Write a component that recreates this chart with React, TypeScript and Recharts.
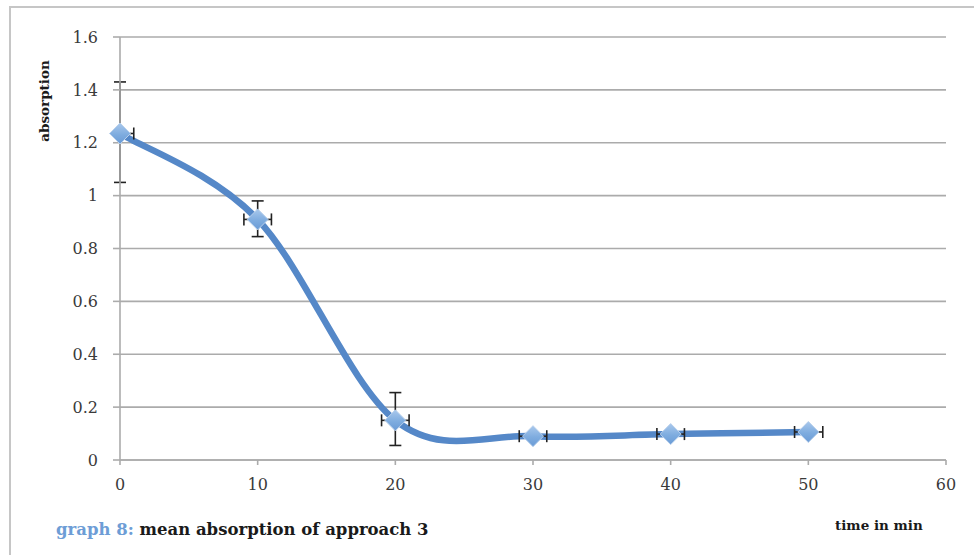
import React from "react"
import { ComposedChart, Line, Scatter, ErrorBar, XAxis, YAxis, CartesianGrid } from "recharts"

const SERIF = "'DejaVu Serif', 'Liberation Serif', serif"

// time in min
const times = [0, 10, 20, 30, 40, 50]
// mean absorption
const absorption = [1.235, 0.91, 0.15, 0.09, 0.098, 0.106]
// y error bars (minus, plus)
const yErrors: [number, number][] = [[0.185, 0.195], [0.065, 0.07], [0.095, 0.105], [0.006, 0.006], [0.006, 0.006], [0.006, 0.006]]
// x error bars (minus, plus)
const xErrors: [number, number][] = [[0, 1], [1, 1], [1, 1], [1, 1], [1, 1], [1, 1.05]]

const xTicks = [0, 10, 20, 30, 40, 50, 60]
const yTicks = [0, 0.2, 0.4, 0.6, 0.8, 1, 1.2, 1.4, 1.6]

const data = times.map((t, i) => ({ t, a: absorption[i], ey: yErrors[i], ex: xErrors[i] }))

const LINE = "#5588c8"
const GRID = "#ababab"

// Excel-style smoothed line (uniform Catmull-Rom as cubic beziers)
function excelSmooth(context: any) {
  let pts: [number, number][] = []
  return {
    areaStart() {},
    areaEnd() {},
    lineStart() { pts = [] },
    point(x: number, y: number) { pts.push([+x, +y]) },
    lineEnd() {
      const n = pts.length
      if (!n) return
      context.moveTo(pts[0][0], pts[0][1])
      for (let i = 0; i < n - 1; i++) {
        const p0 = pts[i - 1] || pts[i]
        const p1 = pts[i]
        const p2 = pts[i + 1]
        const p3 = pts[i + 2] || p2
        context.bezierCurveTo(
          p1[0] + (p2[0] - p0[0]) / 6, p1[1] + (p2[1] - p0[1]) / 6,
          p2[0] - (p3[0] - p1[0]) / 6, p2[1] - (p3[1] - p1[1]) / 6,
          p2[0], p2[1],
        )
      }
    },
  }
}

const Diamond = (props: any) => {
  const { cx, cy } = props
  if (cx == null || cy == null) return null
  const r = 10.5
  return (
    <polygon
      points={`${cx},${cy - r} ${cx + r},${cy} ${cx},${cy + r} ${cx - r},${cy}`}
      fill="url(#diamondFill)"
      stroke="#b8d0ec"
      strokeWidth={1}
    />
  )
}

export default function App() {
  return (
    <div style={{ position: "absolute", left: 0, top: 0, width: 974, height: 555, background: "#fff", overflow: "hidden" }}>
      {/* frame */}
      <div style={{ position: "absolute", left: 9, top: 6, width: 990, height: 580, borderLeft: "2px solid #c6c6c6", borderTop: "2px solid #c6c6c6" }} />

      <ComposedChart
        width={974}
        height={555}
        data={data}
        margin={{ top: 37, right: 28, bottom: 65, left: 0 }}
        style={{ position: "absolute", left: 0, top: 0 }}
      >
        <defs>
          <linearGradient id="diamondFill" x1="0" y1="0" x2="0" y2="1">
            <stop offset="0%" stopColor="#a9c8ec" />
            <stop offset="55%" stopColor="#7eacdf" />
            <stop offset="100%" stopColor="#6a9bd6" />
          </linearGradient>
        </defs>
        <CartesianGrid vertical={false} stroke={GRID} strokeWidth={1.6} />
        <XAxis
          dataKey="t"
          type="number"
          domain={[0, 60]}
          ticks={xTicks}
          height={30}
          tickSize={5}
          tickMargin={14}
          axisLine={{ stroke: GRID, strokeWidth: 1.6 }}
          tickLine={{ stroke: GRID, strokeWidth: 1.6 }}
          tick={{ fontFamily: SERIF, fontSize: 16, fill: "#3a3a3a" }}
        />
        <YAxis
          type="number"
          domain={[0, 1.6]}
          ticks={yTicks}
          width={120}
          tickSize={7}
          tickMargin={15}
          axisLine={{ stroke: GRID, strokeWidth: 1.6 }}
          tickLine={{ stroke: GRID, strokeWidth: 1.6 }}
          tick={{ fontFamily: SERIF, fontSize: 16, fill: "#3a3a3a" }}
          tickFormatter={(v: number) => String(+v.toFixed(1))}
        />
        <Line
          dataKey="a"
          type={excelSmooth as any}
          stroke={LINE}
          strokeWidth={6.5}
          dot={false}
          activeDot={false}
          isAnimationActive={false}
        />
        <Scatter dataKey="a" data={data} shape={<Diamond />} isAnimationActive={false}>
          <ErrorBar dataKey="ey" direction="y" width={6} stroke="#222" strokeWidth={1.6} isAnimationActive={false} />
          <ErrorBar dataKey="ex" direction="x" width={6} stroke="#222" strokeWidth={1.6} isAnimationActive={false} />
        </Scatter>
      </ComposedChart>

      <div style={{ position: "absolute", left: 44, top: 101, transform: "translate(-50%, -50%) rotate(-90deg)", fontFamily: SERIF, fontWeight: 700, fontSize: 13.5, color: "#1a1a1a", whiteSpace: "nowrap" }}>
        absorption
      </div>
      <div style={{ position: "absolute", left: 835, top: 517, fontFamily: SERIF, fontWeight: 700, fontSize: 13.5, color: "#1a1a1a", whiteSpace: "nowrap" }}>
        time in min
      </div>
      <div style={{ position: "absolute", left: 56, top: 520, fontFamily: SERIF, fontWeight: 700, fontSize: 16.5, color: "#1a1a1a", whiteSpace: "nowrap" }}>
        <span style={{ color: "#6d9dd6" }}>graph 8:</span> mean absorption of approach 3
      </div>
    </div>
  )
}
